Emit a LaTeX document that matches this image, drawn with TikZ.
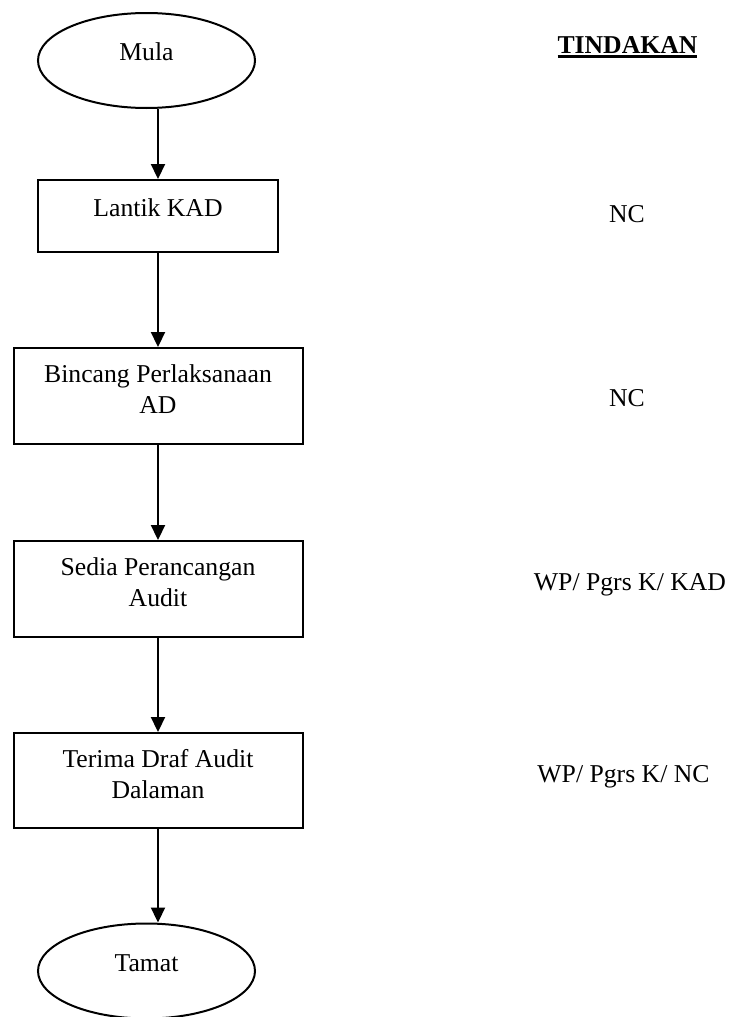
\documentclass[tikz,border=0pt]{standalone}
\usepackage{fontspec}
\setmainfont{Liberation Serif}
\usetikzlibrary{shapes.geometric,arrows.meta}
\newcommand{\ulbold}[1]{\setbox0\hbox{\bfseries #1}\rlap{\rule[-2.3pt]{\wd0}{1.4pt}}\box0}
\begin{document}
\begin{tikzpicture}[x=0.5pt,y=-0.5pt,every node/.style={font=\fontsize{12.85}{15.5}\selectfont}]
					\tikzstyle{terminal}=[ellipse,draw=black,line width=1pt,minimum width=108.5pt,minimum height=47.5pt,inner sep=0pt,text height=8.75pt,text depth=8.75pt]
					\tikzstyle{process}=[rectangle,draw=black,line width=1pt,minimum width=144.5pt,minimum height=48pt,inner sep=0pt,align=center,execute at end node={\rule[-6.75pt]{0pt}{0pt}}]
					\tikzstyle{flow}=[line width=1.1pt,-{Triangle[length=7.5pt,width=7pt]}]
					\useasboundingbox (0,0) rectangle (731,1017);
					\node[terminal](v1) at (146.5,60.5) {Mula};
					\node[rectangle,draw=black,line width=1pt,minimum width=120.2pt,minimum height=36pt,text height=8.75pt,text depth=8.75pt](v2) at (158,216) {Lantik KAD};
					\node[process](v3) at (158,396) {Bincang Perlaksanaan\\AD};
					\node[process](v4) at (158,589) {Sedia Perancangan\\Audit};
					\node[process,minimum height=47.5pt](v5) at (158,780.5) {Terima Draf Audit\\Dalaman};
					\node[terminal](v6) at (146.5,971) {Tamat};
					\node[anchor=base](t1) at (627.5,53) {\ulbold{TINDAKAN}};
					\node[anchor=base](t2) at (627,222) {NC};
					\node[anchor=base](t3) at (627,406) {NC};
					\node[anchor=base](t4) at (630,590) {WP/ Pgrs K/ KAD};
					\node[anchor=base](t5) at (623.5,782) {WP/ Pgrs K/ NC};
   					\draw[flow] (v1.south -| v2.north) to (v2.north);
   					\draw[flow] (v2) to (v3);
   					\draw[flow] (v3) to (v4);
   					\draw[flow] (v4) to (v5);
					\draw[flow] (v5.south) to (v5.south |- v6.north);
				\end{tikzpicture}
\end{document}
